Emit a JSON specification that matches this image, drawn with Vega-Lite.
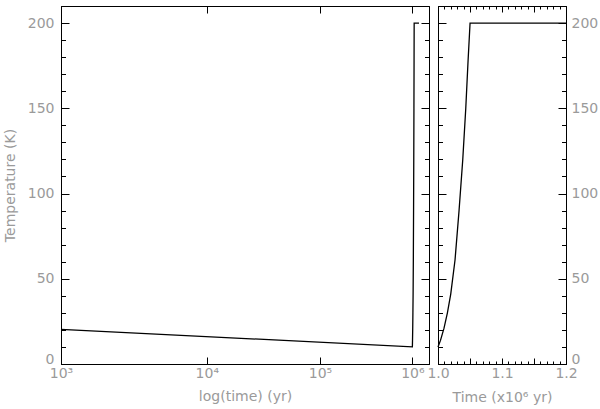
{
  "$schema": "https://vega.github.io/schema/vega-lite/v6.json",
  "background": "white",
  "padding": {"left": 2, "top": 5, "right": 0, "bottom": 0},
  "spacing": 9,
  "bounds": "flush",
  "config": {
    "view": {"stroke": "black", "strokeWidth": 1},
    "axis": {
      "labelFont": "DejaVu Sans", "labelFontSize": 14, "labelColor": "#9a9a9a",
      "titleFont": "DejaVu Sans", "titleFontSize": 14, "titleFontWeight": "normal", "titleColor": "#9a9a9a",
      "domainColor": "black", "tickColor": "black", "grid": false,
      "labelFlush": false, "labelOverlap": false
    }
  },
  "hconcat": [
    {
      "width": 368, "height": 358,
      "data": {"values": [
        {"logt": 3, "T": 20.3},
        {"logt": 6, "T": 10.1},
        {"logt": 6.0017, "T": 14},
        {"logt": 6.0041, "T": 21},
        {"logt": 6.0063, "T": 30},
        {"logt": 6.0086, "T": 41},
        {"logt": 6.0114, "T": 61},
        {"logt": 6.0141, "T": 90},
        {"logt": 6.0165, "T": 120},
        {"logt": 6.0185, "T": 150},
        {"logt": 6.0200, "T": 178},
        {"logt": 6.0212, "T": 200},
        {"logt": 6.0792, "T": 200}
      ]},
      "layer": [
        {
          "mark": {"type": "line", "color": "black", "strokeWidth": 1.3},
          "encoding": {
            "x": {"field": "logt", "type": "quantitative",
              "scale": {"type": "log", "domain": [3, 6.2], "nice": false},
              "axis": {"orient": "bottom", "values": [3, 4, 5, 6],
                "labelExpr": "'10' + (datum.value == 3 ? '³' : datum.value == 4 ? '⁴' : datum.value == 5 ? '⁵' : '⁶')",
                "tickSize": -7, "labelPadding": 9, "title": "log(time) (yr)", "titlePadding": 9}},
            "y": {"field": "T", "type": "quantitative",
              "scale": {"domain": [0, 210], "nice": false, "zero": false},
              "axis": {"orient": "left", "values": [0,10,20,30,40,50,60,70,80,90,100,110,120,130,140,150,160,170,180,190,200],
                "labelExpr": "datum.value % 50 == 0 ? datum.label : ''",
                "labelOffset": {"condition": {"test": "datum.value == 0", "value": -5}, "value": 0},
                "tickSize": {"condition": {"test": "datum.value % 50 == 0", "value": -8}, "value": -4.5},
                "labelPadding": 15, "title": "Temperature (K)", "titlePadding": 10}}
          }
        },
        {
          "mark": {"type": "line", "opacity": 0},
          "encoding": {
            "x": {"field": "logt", "type": "quantitative",
              "scale": {"type": "log", "domain": [3, 6.2], "nice": false},
              "axis": {"orient": "top", "values": [3, 4, 5, 6], "labels": false, "tickSize": -7, "title": null}},
            "y": {"field": "T", "type": "quantitative",
              "scale": {"domain": [0, 210], "nice": false, "zero": false},
              "axis": {"orient": "right", "values": [0,10,20,30,40,50,60,70,80,90,100,110,120,130,140,150,160,170,180,190,200],
                "labels": false,
                "tickSize": {"condition": {"test": "datum.value % 50 == 0", "value": -8}, "value": -4.5},
                "title": null}}
          }
        }
      ],
      "resolve": {"axis": {"x": "independent", "y": "independent"}}
    },
    {
      "width": 128, "height": 358,
      "data": {"values": [
        {"t": 1.0, "T": 10},
        {"t": 1.004, "T": 14},
        {"t": 1.0094, "T": 21},
        {"t": 1.0147, "T": 30},
        {"t": 1.0199, "T": 41},
        {"t": 1.0266, "T": 61},
        {"t": 1.0329, "T": 90},
        {"t": 1.0387, "T": 120},
        {"t": 1.0434, "T": 150},
        {"t": 1.047, "T": 178},
        {"t": 1.0501, "T": 200},
        {"t": 1.2, "T": 200}
      ]},
      "layer": [
        {
          "mark": {"type": "line", "color": "black", "strokeWidth": 1.3},
          "encoding": {
            "x": {"field": "t", "type": "quantitative",
              "scale": {"domain": [1.0, 1.2], "nice": false, "zero": false},
              "axis": {"orient": "bottom",
                "values": [1.0,1.01,1.02,1.03,1.04,1.05,1.06,1.07,1.08,1.09,1.1,1.11,1.12,1.13,1.14,1.15,1.16,1.17,1.18,1.19,1.2],
                "labelExpr": "round(datum.value * 100) % 10 == 0 ? format(datum.value, '.1f') : ''",
                "tickSize": {"condition": {"test": "round(datum.value * 100) % 5 == 0", "value": -6}, "value": -3},
                "labelPadding": 8, "title": "Time (x10⁶ yr)", "titlePadding": 7}},
            "y": {"field": "T", "type": "quantitative",
              "scale": {"domain": [0, 210], "nice": false, "zero": false},
              "axis": {"orient": "left", "values": [0,10,20,30,40,50,60,70,80,90,100,110,120,130,140,150,160,170,180,190,200],
                "labels": false,
                "tickSize": {"condition": {"test": "datum.value % 50 == 0", "value": -8}, "value": -4.5},
                "title": null}}
          }
        },
        {
          "mark": {"type": "line", "opacity": 0},
          "encoding": {
            "x": {"field": "t", "type": "quantitative",
              "scale": {"domain": [1.0, 1.2], "nice": false, "zero": false},
              "axis": {"orient": "top",
                "values": [1.0,1.01,1.02,1.03,1.04,1.05,1.06,1.07,1.08,1.09,1.1,1.11,1.12,1.13,1.14,1.15,1.16,1.17,1.18,1.19,1.2],
                "labels": false,
                "tickSize": {"condition": {"test": "round(datum.value * 100) % 5 == 0", "value": -6}, "value": -3},
                "title": null}},
            "y": {"field": "T", "type": "quantitative",
              "scale": {"domain": [0, 210], "nice": false, "zero": false},
              "axis": {"orient": "right", "values": [0,10,20,30,40,50,60,70,80,90,100,110,120,130,140,150,160,170,180,190,200],
                "labelExpr": "datum.value % 50 == 0 ? datum.label : ''",
                "labelOffset": {"condition": {"test": "datum.value == 0", "value": -5}, "value": 0},
                "tickSize": {"condition": {"test": "datum.value % 50 == 0", "value": -8}, "value": -4.5},
                "labelPadding": 13, "title": null}}
          }
        }
      ],
      "resolve": {"axis": {"x": "independent", "y": "independent"}}
    }
  ]
}
